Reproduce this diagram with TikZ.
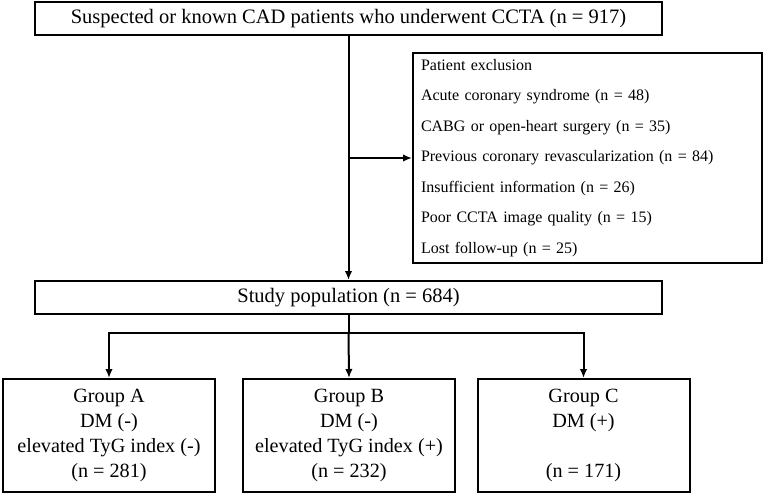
\documentclass[tikz,border=0pt]{standalone}
\usepackage{fontspec}
\setmainfont{Liberation Serif}
\usetikzlibrary{arrows.meta,positioning,calc}

\begin{document}
\begin{tikzpicture}[
  x=1pt, y=-1pt,
  box/.style={draw, line width=2pt, align=center, inner sep=0pt},
  widebox/.style={box, minimum width=627pt, minimum height=33pt, font=\fontsize{20.5}{24}\selectfont},
  groupbox/.style={box, minimum width=212pt, minimum height=113pt, font=\fontsize{20.2}{25}\selectfont},
  listbox/.style={box, align=left, minimum width=349pt, minimum height=210pt, text width=333pt,
    font=\fontsize{16}{30.5}\selectfont},
  flow/.style={line width=2pt, -{Latex[length=9pt,width=7.5pt]}}
]
\useasboundingbox (0,0) rectangle (765,495);

\node[widebox] (screened) at (348.5,19) {Suspected or known CAD patients who underwent CCTA (n = 917)};
\node[listbox] (excluded) at (587.5,158) {Patient exclusion\\
  Acute coronary syndrome (n = 48)\\
  CABG or open-heart surgery (n = 35)\\
  Previous coronary revascularization (n = 84)\\
  Insufficient information (n = 26)\\
  Poor CCTA image quality (n = 15)\\
  Lost follow-up (n = 25)};
\node[widebox] (study) at (348.5,297.5) {Study population (n = 684)};

\node[groupbox] (grpA) at (109,435.5) {Group A\\DM (-)\\elevated TyG index (-)\\(n = 281)};
\node[groupbox] (grpB) at (349,435.5) {Group B\\DM (-)\\elevated TyG index (+)\\(n = 232)};
\node[groupbox] (grpC) at (583.5,435.5) {Group C\\DM (+)\\\strut\\(n = 171)};

% main stream and exclusion
\draw[flow] (screened.south) -- (study.north);
\draw[flow] (screened.south |- excluded.west) -- (excluded.west);

% split into groups
\coordinate (split) at ($(study.south)+(0,18)$);
\draw[line width=2pt] (study.south) -- (split);
\draw[flow] (split) -| (grpA.north);
\draw[flow] (split) -- (grpB.north);
\draw[flow] (split) -| (grpC.north);

\end{tikzpicture}
\end{document}
